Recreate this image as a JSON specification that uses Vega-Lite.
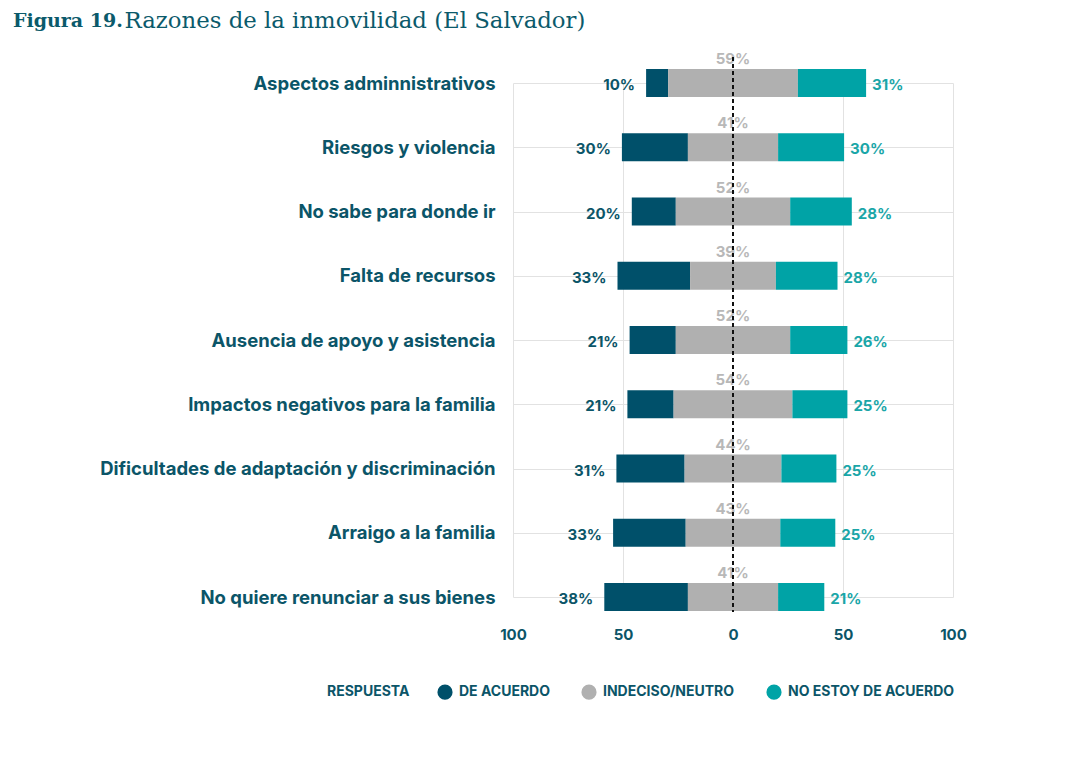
{
  "$schema": "https://vega.github.io/schema/vega-lite/v6.json",
  "width": 440,
  "height": 514,
  "autosize": {"type": "none"},
  "padding": {"left": 513, "top": 83, "right": 139, "bottom": 160},
  "background": "white",
  "config": {"view": {"stroke": null}, "font": "Inter"},
  "title": {
    "text": "Figura 19.",
    "anchor": "start",
    "frame": "group",
    "dx": -500,
    "dy": 52,
    "offset": 30,
    "font": "DejaVu Serif",
    "fontSize": 19,
    "fontWeight": "bold",
    "color": "#0b5a6b"
  },
  "data": {
    "values": [
      {"razon": "Aspectos adminnistrativos", "respuesta": "DE ACUERDO", "valor": 10},
      {"razon": "Aspectos adminnistrativos", "respuesta": "INDECISO/NEUTRO", "valor": 59},
      {"razon": "Aspectos adminnistrativos", "respuesta": "NO ESTOY DE ACUERDO", "valor": 31},
      {"razon": "Riesgos y violencia", "respuesta": "DE ACUERDO", "valor": 30},
      {"razon": "Riesgos y violencia", "respuesta": "INDECISO/NEUTRO", "valor": 41},
      {"razon": "Riesgos y violencia", "respuesta": "NO ESTOY DE ACUERDO", "valor": 30},
      {"razon": "No sabe para donde ir", "respuesta": "DE ACUERDO", "valor": 20},
      {"razon": "No sabe para donde ir", "respuesta": "INDECISO/NEUTRO", "valor": 52},
      {"razon": "No sabe para donde ir", "respuesta": "NO ESTOY DE ACUERDO", "valor": 28},
      {"razon": "Falta de recursos", "respuesta": "DE ACUERDO", "valor": 33},
      {"razon": "Falta de recursos", "respuesta": "INDECISO/NEUTRO", "valor": 39},
      {"razon": "Falta de recursos", "respuesta": "NO ESTOY DE ACUERDO", "valor": 28},
      {"razon": "Ausencia de apoyo y asistencia", "respuesta": "DE ACUERDO", "valor": 21},
      {"razon": "Ausencia de apoyo y asistencia", "respuesta": "INDECISO/NEUTRO", "valor": 52},
      {"razon": "Ausencia de apoyo y asistencia", "respuesta": "NO ESTOY DE ACUERDO", "valor": 26},
      {"razon": "Impactos negativos para la familia", "respuesta": "DE ACUERDO", "valor": 21},
      {"razon": "Impactos negativos para la familia", "respuesta": "INDECISO/NEUTRO", "valor": 54},
      {"razon": "Impactos negativos para la familia", "respuesta": "NO ESTOY DE ACUERDO", "valor": 25},
      {"razon": "Dificultades de adaptación y discriminación", "respuesta": "DE ACUERDO", "valor": 31},
      {"razon": "Dificultades de adaptación y discriminación", "respuesta": "INDECISO/NEUTRO", "valor": 44},
      {"razon": "Dificultades de adaptación y discriminación", "respuesta": "NO ESTOY DE ACUERDO", "valor": 25},
      {"razon": "Arraigo a la familia", "respuesta": "DE ACUERDO", "valor": 33},
      {"razon": "Arraigo a la familia", "respuesta": "INDECISO/NEUTRO", "valor": 43},
      {"razon": "Arraigo a la familia", "respuesta": "NO ESTOY DE ACUERDO", "valor": 25},
      {"razon": "No quiere renunciar a sus bienes", "respuesta": "DE ACUERDO", "valor": 38},
      {"razon": "No quiere renunciar a sus bienes", "respuesta": "INDECISO/NEUTRO", "valor": 41},
      {"razon": "No quiere renunciar a sus bienes", "respuesta": "NO ESTOY DE ACUERDO", "valor": 21}
    ]
  },
  "transform": [
    {"calculate": "indexof(['DE ACUERDO','INDECISO/NEUTRO','NO ESTOY DE ACUERDO'], datum.respuesta)", "as": "orden"},
    {"calculate": "datum.respuesta === 'DE ACUERDO' ? datum.valor : 0", "as": "a"},
    {"calculate": "datum.respuesta === 'INDECISO/NEUTRO' ? datum.valor : 0", "as": "n"},
    {"joinaggregate": [{"op": "sum", "field": "a", "as": "A"}, {"op": "sum", "field": "n", "as": "N"}], "groupby": ["razon"]},
    {"stack": "valor", "groupby": ["razon"], "sort": [{"field": "orden", "order": "ascending"}], "as": ["v1", "v2"]},
    {"calculate": "datum.v1 - datum.A - datum.N / 2", "as": "x1"},
    {"calculate": "datum.v2 - datum.A - datum.N / 2", "as": "x2"},
    {"calculate": "datum.valor + '%'", "as": "etiqueta"}
  ],
  "layer": [
    {
      "mark": {"type": "bar", "height": 28},
      "encoding": {
        "y": {
          "field": "razon",
          "type": "nominal",
          "scale": {
            "type": "point",
            "padding": 0,
            "domain": ["Aspectos adminnistrativos", "Riesgos y violencia", "No sabe para donde ir", "Falta de recursos", "Ausencia de apoyo y asistencia", "Impactos negativos para la familia", "Dificultades de adaptación y discriminación", "Arraigo a la familia", "No quiere renunciar a sus bienes"]
          },
          "axis": {
            "title": "Razones de la inmovilidad (El Salvador)",
            "titleAngle": 0,
            "titleX": -389,
            "titleY": -56,
            "titleAlign": "left",
            "titleBaseline": "alphabetic",
            "titleFont": "DejaVu Serif",
            "titleFontSize": 22.8,
            "titleFontWeight": "normal",
            "titleColor": "#0b5a6b",
            "domain": false,
            "ticks": false,
            "grid": true,
            "gridColor": "#e2e2e2",
            "gridWidth": 1,
            "labelPadding": 18,
            "labelFont": "Inter",
            "labelFontSize": 18.5,
            "labelFontWeight": "bold",
            "labelColor": "#0b5568",
            "labelLimit": 600
          }
        },
        "x": {
          "field": "x1",
          "type": "quantitative",
          "scale": {"domain": [-100, 100], "nice": false, "zero": false},
          "axis": {
            "title": null,
            "values": [-100, -50, 0, 50, 100],
            "labelExpr": "abs(datum.value)",
            "domain": false,
            "ticks": false,
            "grid": true,
            "gridColor": "#e2e2e2",
            "gridOpacity": {"condition": {"test": "datum.value === 0", "value": 0}, "value": 1},
            "labelPadding": 30,
            "labelFont": "Inter",
            "labelFontSize": 15,
            "labelFontWeight": "bold",
            "labelColor": "#0b5568",
            "labelFlush": false
          }
        },
        "x2": {"field": "x2"},
        "color": {
          "field": "respuesta",
          "type": "nominal",
          "scale": {
            "domain": ["DE ACUERDO", "INDECISO/NEUTRO", "NO ESTOY DE ACUERDO"],
            "range": ["#00506a", "#b0b0b0", "#00a3a6"]
          },
          "legend": {
            "title": "RESPUESTA",
            "orient": "none",
            "legendX": -186,
            "legendY": 601,
            "direction": "horizontal",
            "titleOrient": "left",
            "titleFont": "Inter",
            "titleFontSize": 14,
            "titleFontWeight": "bold",
            "titleColor": "#0b5568",
            "titlePadding": 27,
            "labelFont": "Inter",
            "labelFontSize": 14,
            "labelFontWeight": "bold",
            "labelColor": "#0b5568",
            "labelOffset": 6,
            "columnPadding": 31,
            "symbolType": "circle",
            "symbolSize": 230,
            "symbolStrokeWidth": 0,
            "labelLimit": 300
          }
        }
      }
    },
    {
      "transform": [{"filter": "datum.respuesta === 'DE ACUERDO'"}],
      "mark": {"type": "text", "align": "right", "baseline": "middle", "dx": -11, "dy": 2, "font": "Inter", "fontSize": 15, "fontWeight": "bold", "color": "#0b5568"},
      "encoding": {
        "y": {"field": "razon", "type": "nominal"},
        "x": {"field": "x1", "type": "quantitative"},
        "text": {"field": "etiqueta"}
      }
    },
    {
      "transform": [{"filter": "datum.respuesta === 'INDECISO/NEUTRO'"}],
      "mark": {"type": "text", "align": "center", "baseline": "middle", "dy": -24, "font": "Inter", "fontSize": 15, "fontWeight": "bold", "color": "#b8b8b8"},
      "encoding": {
        "y": {"field": "razon", "type": "nominal"},
        "x": {"datum": 0, "type": "quantitative"},
        "text": {"field": "etiqueta"}
      }
    },
    {
      "transform": [{"filter": "datum.respuesta === 'NO ESTOY DE ACUERDO'"}],
      "mark": {"type": "text", "align": "left", "baseline": "middle", "dx": 6, "dy": 2, "font": "Inter", "fontSize": 15, "fontWeight": "bold", "color": "#1aa6a8"},
      "encoding": {
        "y": {"field": "razon", "type": "nominal"},
        "x": {"field": "x2", "type": "quantitative"},
        "text": {"field": "etiqueta"}
      }
    },
    {
      "mark": {"type": "rule", "strokeDash": [4, 3], "color": "#111111", "strokeWidth": 1.2, "yOffset": -26, "y2Offset": 15},
      "encoding": {
        "x": {"datum": 0, "type": "quantitative"},
        "y": {"datum": "Aspectos adminnistrativos", "type": "nominal"},
        "y2": {"datum": "No quiere renunciar a sus bienes"}
      }
    }
  ]
}
